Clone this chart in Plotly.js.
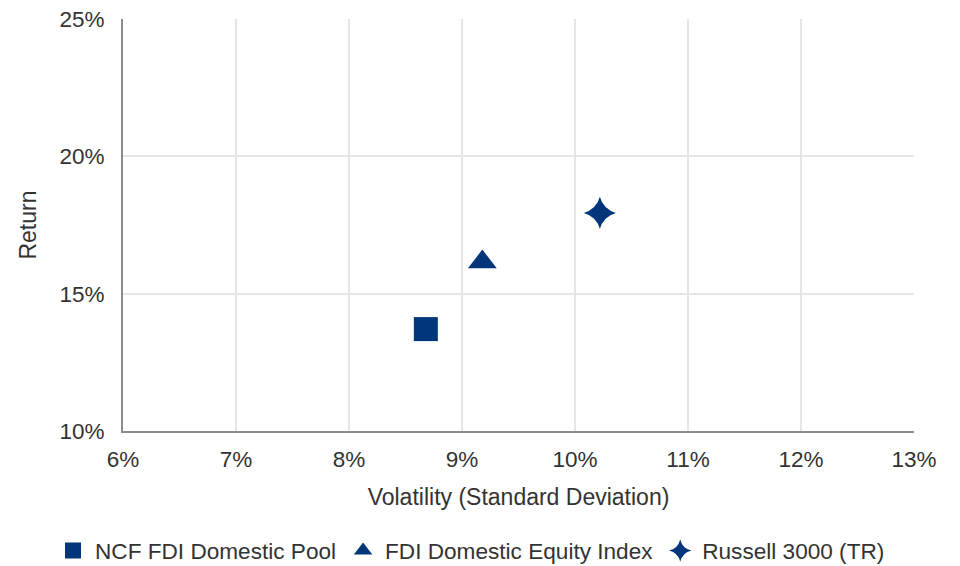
<!DOCTYPE html>
<html>
<head>
<meta charset="utf-8">
<script src="https://cdn.plot.ly/plotly-3.0.1.min.js"></script>
<style>
  html, body { margin: 0; padding: 0; background: #fff; }
  #chart { width: 960px; height: 566px; }
</style>
</head>
<body>
<div id="chart"></div>
<script>
// risk / return points, values in percent
const seriesNames = ['NCF FDI Domestic Pool', 'FDI Domestic Equity Index', 'Russell 3000 (TR)']
const volatility = [8.68, 9.18, 10.22]
const returns = [13.71, 16.15, 17.94]
const symbols = ['square', 'triangle-up', 'star-diamond']
const sizes = [24, 25, 23]

const navy = '#02367a'
const fontFamily = '"Liberation Sans", Arial, sans-serif'

const data = seriesNames.map((name, i) => ({
  x: [volatility[i]],
  y: [returns[i]],
  name: name,
  type: 'scatter',
  mode: 'markers',
  marker: { symbol: symbols[i], size: sizes[i], color: navy, line: { width: 0 } },
  hoverinfo: 'x+y+name'
}))

const layout = {
  width: 960,
  height: 566,
  margin: { l: 123, r: 46, t: 19, b: 135, autoexpand: false },
  paper_bgcolor: '#fff',
  plot_bgcolor: '#fff',
  font: { family: fontFamily, size: 22.5, color: '#333' },
  showlegend: true,
  legend: {
    orientation: 'h',
    x: -0.091,
    xanchor: 'left',
    y: -0.291,
    yanchor: 'middle',
    font: { size: 22.6, color: '#333' },
    itemsizing: 'trace',
    itemwidth: 34
  },
  xaxis: {
    range: [6, 13],
    dtick: 1,
    ticksuffix: '%',
    showgrid: true,
    gridcolor: '#e6e6e6',
    gridwidth: 2,
    showline: true,
    linecolor: '#8c8c8c',
    linewidth: 2,
    zeroline: false,
    ticks: '',
    ticklabelstandoff: 7,
    title: { text: 'Volatility (Standard Deviation)', standoff: 18, font: { size: 23 } }
  },
  yaxis: {
    range: [10, 25],
    dtick: 5,
    ticksuffix: '%',
    showgrid: true,
    gridcolor: '#e6e6e6',
    gridwidth: 2,
    showline: true,
    linecolor: '#8c8c8c',
    linewidth: 2,
    zeroline: false,
    ticks: '',
    ticklabelstandoff: 12,
    title: { text: 'Return', standoff: 16, font: { size: 23 } }
  }
}

Plotly.newPlot('chart', data, layout, { displayModeBar: false, responsive: false })
</script>
</body>
</html>
